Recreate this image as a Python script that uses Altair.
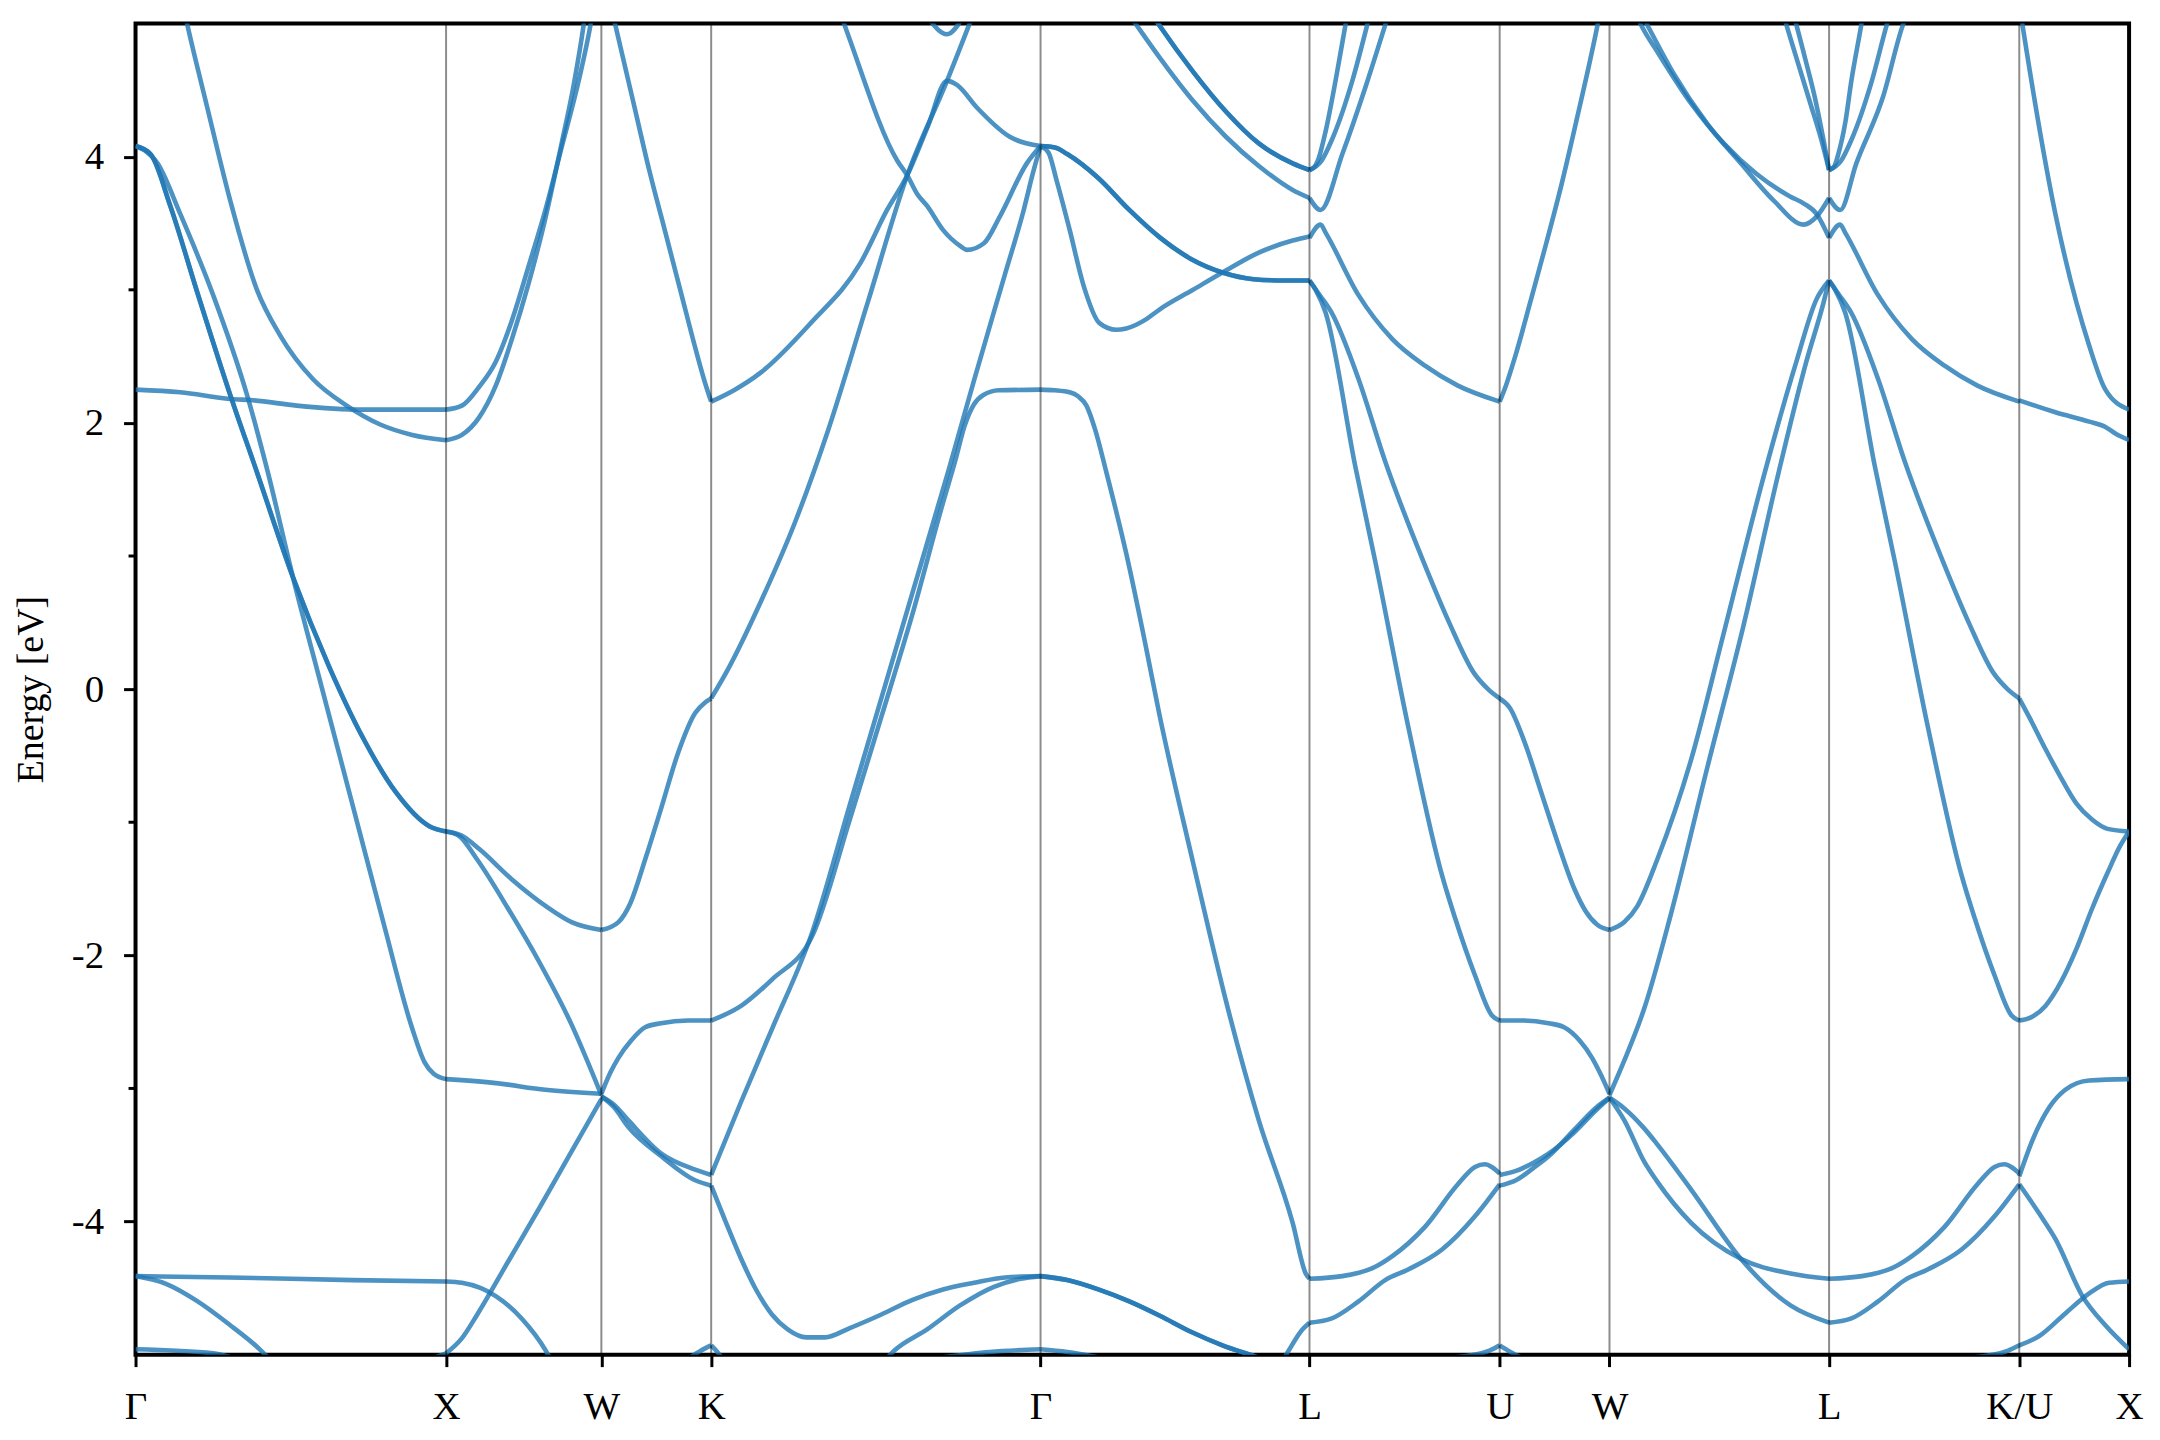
import altair as alt
import pandas as pd

# high-symmetry path (k in units of 2pi/a) and labels
K_POINTS = [0.0, 1.0, 1.5, 1.8536, 2.9142, 3.7802, 4.3926, 4.7462, 5.4533, 6.0657, 6.4193]
K_LABELS = ["Γ", "X", "W", "K", "Γ", "L", "U", "W", "L", "K/U", "X"]
Y_TICKS = [-4, -2, 0, 2, 4]
Y_MINOR = [-3, -1, 1, 3]

# ---- Gamma - X ----
GX_a = [(0, 4.08), (0.048, 4.02), (0.112, 3.63), (0.199, 2.98), (0.305, 2.21), (0.391, 1.63), (0.507, 0.84),
        (0.625, 0.16), (0.731, -0.36), (0.840, -0.78), (0.946, -1.03), (1.0, -1.07)]
GX_b = [(0, 4.08), (0.071, 3.95), (0.144, 3.57), (0.250, 2.96), (0.359, 2.21), (0.426, 1.63), (0.507, 0.84),
        (0.60, 0.01), (0.70, -0.88), (0.80, -1.77), (0.891, -2.55), (0.93, -2.80), (0.96, -2.89), (1.0, -2.93)]
GX_c = [(0, 2.25), (0.144, 2.23), (0.305, 2.18), (0.378, 2.17), (0.519, 2.13), (0.731, 2.10), (1.0, 2.10)]
GX_d = [(0.15, 5.17), (0.167, 4.99), (0.231, 4.37), (0.305, 3.67), (0.391, 3.00), (0.465, 2.66), (0.571, 2.33),
        (0.680, 2.13), (0.786, 1.99), (0.891, 1.91), (1.0, 1.87)]
GX_e = [(0, -4.41), (0.3, -4.42), (0.7, -4.44), (1.0, -4.45)]
GX_f = [(0, -4.41), (0.1, -4.47), (0.2, -4.60), (0.3, -4.77), (0.4, -4.96), (0.43, -5.03)]
GX_g = [(0, -4.96), (0.25, -4.99), (0.32, -5.03)]
GX_h = [(0.93, -5.05), (1.0, -4.99)]

# ---- X - W ----
XW_a = [(1.0, 2.10), (1.051, 2.13), (1.106, 2.27), (1.160, 2.46), (1.212, 2.77), (1.266, 3.18), (1.321, 3.61),
        (1.372, 4.07), (1.427, 4.57), (1.465, 4.99), (1.48, 5.2)]
XW_b = [(1.0, 1.87), (1.051, 1.91), (1.106, 2.04), (1.160, 2.28), (1.212, 2.63), (1.266, 3.05), (1.321, 3.55),
        (1.372, 4.10), (1.411, 4.54), (1.443, 4.99), (1.455, 5.2)]
XW_c = [(1.0, -1.07), (1.05, -1.10), (1.106, -1.20), (1.212, -1.43), (1.321, -1.63), (1.404, -1.75), (1.5, -1.81)]
XW_d = [(1.0, -1.07), (1.04, -1.10), (1.1, -1.28), (1.2, -1.65), (1.3, -2.05), (1.4, -2.50), (1.5, -3.05)]
XW_e = [(1.0, -2.93), (1.16, -2.96), (1.32, -3.01), (1.5, -3.04)]
XW_f = [(1.0, -4.45), (1.051, -4.46), (1.160, -4.56), (1.244, -4.73), (1.321, -4.97), (1.34, -5.05)]
XW_g = [(1.0, -4.99), (1.05, -4.88), (1.1, -4.70), (1.2, -4.30), (1.3, -3.90), (1.4, -3.49), (1.5, -3.08)]

# ---- W - K ----
WK_a = [(1.534, 5.1), (1.554, 4.90), (1.604, 4.40), (1.654, 3.90), (1.704, 3.45), (1.754, 3.00), (1.804, 2.55),
        (1.834, 2.30), (1.8536, 2.16)]
WK_b = [(1.5, -1.81), (1.555, -1.75), (1.593, -1.61), (1.641, -1.28), (1.692, -0.90), (1.747, -0.48),
        (1.802, -0.18), (1.834, -0.10), (1.8536, -0.07)]
WK_c = [(1.5, -3.04), (1.529, -2.88), (1.555, -2.77), (1.596, -2.64), (1.641, -2.54), (1.692, -2.51),
        (1.779, -2.49), (1.8536, -2.49)]
WK_d = [(1.5, -3.06), (1.54, -3.12), (1.587, -3.24), (1.693, -3.49), (1.802, -3.61), (1.8536, -3.65)]
WK_e = [(1.5, -3.06), (1.54, -3.14), (1.587, -3.29), (1.693, -3.51), (1.802, -3.69), (1.8536, -3.73)]
WK_f = [(1.78, -5.03), (1.82, -4.97), (1.8536, -4.93)]

# ---- K - Gamma ----
KG_s1 = [(1.8536, -3.65), (1.95, -3.10), (2.05, -2.55), (2.18, -1.82), (2.30, -0.87), (2.40, -0.08),
         (2.50, 0.71), (2.62, 1.66), (2.70, 2.32), (2.80, 3.12), (2.86, 3.60), (2.89, 3.88), (2.9142, 4.08)]
KG_s2 = [(1.8536, -2.49), (1.95, -2.38), (2.05, -2.18), (2.18, -1.85), (2.30, -0.98), (2.40, -0.22),
         (2.50, 0.55), (2.60, 1.40), (2.64, 1.72), (2.67, 1.98), (2.70, 2.14), (2.73, 2.21), (2.78, 2.245),
         (2.9142, 2.25)]
KG_b = [(1.8536, -0.07), (1.908, 0.15), (2.014, 0.66), (2.123, 1.25), (2.228, 1.93), (2.357, 2.90),
        (2.485, 3.86), (2.613, 4.57), (2.684, 4.99), (2.71, 5.15)]
KG_p = [(1.8536, 2.16), (1.93, 2.25), (2.014, 2.38), (2.174, 2.75), (2.334, 3.20), (2.42, 3.60), (2.485, 3.86),
        (2.55, 4.22), (2.613, 4.57), (2.645, 4.54), (2.709, 4.37), (2.815, 4.15), (2.9142, 4.08)]
KG_x = [(2.25, 5.2), (2.283, 4.99), (2.453, 3.97), (2.485, 3.86), (2.517, 3.72), (2.549, 3.63), (2.60, 3.45),
        (2.655, 3.33), (2.677, 3.30), (2.732, 3.35), (2.783, 3.55), (2.870, 3.95), (2.9142, 4.08)]
KG_v = [(2.55, 5.05), (2.613, 4.92), (2.665, 5.05)]
KG_l1 = [(1.8536, -3.73), (1.90, -4.00), (1.95, -4.28), (2.00, -4.52), (2.05, -4.70), (2.10, -4.81),
         (2.16, -4.87), (2.22, -4.87), (2.30, -4.80), (2.40, -4.70), (2.50, -4.59), (2.60, -4.51),
         (2.70, -4.46), (2.80, -4.42), (2.9142, -4.41)]
KG_l2 = [(2.41, -5.05), (2.443, -4.97), (2.549, -4.81), (2.655, -4.63), (2.764, -4.49), (2.85, -4.43),
         (2.9142, -4.41)]
KG_l3 = [(2.60, -5.02), (2.75, -4.98), (2.9142, -4.96)]
KG_l4 = [(1.8536, -4.93), (1.87, -4.97), (1.89, -5.03)]

# ---- Gamma - L ----
GL_1 = [(2.9142, 4.08), (2.96, 4.07), (3.0, 4.02), (3.1, 3.84), (3.2, 3.60), (3.3, 3.39), (3.4, 3.23),
        (3.5, 3.13), (3.6, 3.08), (3.7, 3.07), (3.7802, 3.07)]
GL_2 = [(2.9142, 4.08), (2.94, 4.03), (2.966, 3.82), (3.008, 3.45), (3.053, 3.03), (3.104, 2.75), (3.158, 2.70),
        (3.19, 2.71), (3.255, 2.78), (3.296, 2.85), (3.405, 3.00), (3.50, 3.13), (3.617, 3.28), (3.726, 3.37),
        (3.7802, 3.40)]
GL_3 = [(3.25, 5.15), (3.296, 4.99), (3.405, 4.64), (3.511, 4.34), (3.617, 4.10), (3.726, 3.95), (3.7802, 3.90)]
GL_4 = [(3.19, 5.1), (3.223, 4.99), (3.296, 4.75), (3.405, 4.42), (3.511, 4.15), (3.617, 3.93), (3.726, 3.75),
        (3.7802, 3.69)]
GL_5 = [(2.9142, 2.25), (2.96, 2.245), (3.008, 2.23), (3.035, 2.20), (3.062, 2.13), (3.09, 1.95), (3.126, 1.63),
        (3.19, 1.02), (3.255, 0.30), (3.296, -0.18), (3.405, -1.30), (3.437, -1.62), (3.511, -2.34),
        (3.617, -3.24), (3.726, -4.01), (3.768, -4.39), (3.7802, -4.43)]
GL_6 = [(2.9142, -4.41), (3.0, -4.44), (3.1, -4.51), (3.2, -4.60), (3.3, -4.71), (3.4, -4.83), (3.5, -4.93),
        (3.6, -5.01), (3.65, -5.05)]
GL_7 = [(3.695, -5.04), (3.713, -4.97), (3.758, -4.81), (3.7802, -4.76)]
GL_8 = [(2.9142, -4.96), (3.0, -4.98), (3.10, -5.02)]

# ---- L - U ----
LU_a = [(3.7802, 3.07), (3.80, 3.00), (3.832, 2.83), (3.928, 1.67), (3.992, 0.96), (4.098, -0.28),
        (4.207, -1.40), (4.249, -1.72), (4.313, -2.15), (4.367, -2.45), (4.3926, -2.49)]
LU_b = [(3.7802, 3.07), (3.81, 2.97), (3.851, 2.83), (3.938, 2.33), (4.024, 1.71), (4.152, 0.93), (4.230, 0.50),
        (4.310, 0.12), (4.355, 0.0), (4.3926, -0.07)]
LU_c = [(3.7802, 3.39), (3.816, 3.49), (3.832, 3.43), (3.938, 2.96), (4.047, 2.63), (4.152, 2.43), (4.258, 2.28),
        (4.3926, 2.16)]
LU_d = [(3.7802, 3.90), (3.795, 3.92), (3.81, 3.99), (3.832, 4.19), (3.864, 4.57), (3.896, 4.99), (3.91, 5.17)]
LU_e = [(3.7802, 3.90), (3.819, 3.97), (3.851, 4.12), (3.918, 4.57), (3.966, 4.99), (3.98, 5.12)]
LU_f = [(3.7802, 3.69), (3.816, 3.60), (3.886, 4.02), (3.960, 4.52), (4.024, 4.99), (4.04, 5.11)]
LU_g = [(3.7802, -4.43), (3.886, -4.41), (3.992, -4.34), (4.047, -4.26), (4.152, -4.04), (4.258, -3.72),
        (4.313, -3.59), (4.345, -3.57), (4.367, -3.59), (4.3926, -3.64)]
LU_h = [(3.7802, -4.76), (3.85, -4.73), (3.938, -4.60), (4.024, -4.44), (4.098, -4.36), (4.207, -4.21),
        (4.313, -3.96), (4.3926, -3.72)]
LU_i = [(4.25, -5.02), (4.36, -4.97), (4.3926, -4.93)]

# ---- U - W ----
UW_a = [(4.3926, 2.16), (4.4126, 2.28), (4.4426, 2.50), (4.4926, 2.92), (4.5426, 3.35), (4.5926, 3.80),
        (4.6426, 4.30), (4.6926, 4.82), (4.7126, 5.05), (4.72, 5.15)]
UW_b = [(4.3926, -0.07), (4.425, -0.14), (4.473, -0.40), (4.527, -0.78), (4.579, -1.15), (4.633, -1.50),
        (4.67, -1.67), (4.707, -1.77), (4.7462, -1.81)]
UW_c = [(4.3926, -2.49), (4.47, -2.49), (4.55, -2.51), (4.60, -2.54), (4.65, -2.64), (4.69, -2.77),
        (4.715, -2.88), (4.7462, -3.04)]
UW_d = [(4.3926, -3.65), (4.445, -3.62), (4.50, -3.56), (4.55, -3.49), (4.633, -3.33), (4.70, -3.17),
        (4.7462, -3.07)]
UW_e = [(4.3926, -3.73), (4.445, -3.69), (4.50, -3.60), (4.55, -3.51), (4.633, -3.31), (4.70, -3.15),
        (4.7462, -3.07)]
UW_f = [(4.3926, -4.93), (4.42, -4.97), (4.46, -5.02)]

# ---- W - L ----
WL_a = [(4.7462, -1.81), (4.794, -1.75), (4.836, -1.63), (4.900, -1.28), (5.009, -0.53), (5.114, 0.42),
        (5.243, 1.60), (5.348, 2.46), (5.413, 2.93), (5.4533, 3.07)]
WL_b = [(4.7462, -3.05), (4.794, -2.79), (4.858, -2.40), (4.944, -1.69), (5.060, -0.60), (5.178, 0.48),
        (5.291, 1.63), (5.380, 2.46), (5.435, 2.90), (5.4533, 3.07)]
WL_c = [(4.7462, -3.07), (4.794, -3.15), (4.858, -3.30), (4.900, -3.42), (5.009, -3.76), (5.169, -4.28),
        (5.329, -4.63), (5.4533, -4.76)]
WL_d = [(4.7462, -3.07), (4.794, -3.24), (4.858, -3.55), (4.900, -3.70), (5.009, -4.01), (5.169, -4.28),
        (5.329, -4.39), (5.4533, -4.43)]
WL_e = [(4.83, 5.08), (4.848, 4.99), (4.900, 4.79), (5.009, 4.40), (5.114, 4.10), (5.220, 3.87), (5.329, 3.70),
        (5.371, 3.65), (5.413, 3.57), (5.4533, 3.39)]
WL_f = [(4.85, 5.07), (4.868, 4.99), (4.954, 4.62), (5.060, 4.25), (5.169, 3.95), (5.275, 3.67), (5.371, 3.49),
        (5.413, 3.55), (5.4533, 3.69)]
WL_g = [(5.30, 5.12), (5.316, 4.99), (5.355, 4.69), (5.393, 4.40), (5.428, 4.13), (5.4533, 3.90)]
WL_h = [(5.335, 5.10), (5.348, 4.99), (5.377, 4.73), (5.406, 4.46), (5.435, 4.13), (5.4533, 3.90)]

# ---- L - K/U ----
LK_a = [(5.4533, 3.07), (5.473, 3.00), (5.505, 2.83), (5.601, 1.67), (5.665, 0.96), (5.771, -0.28),
        (5.880, -1.40), (5.922, -1.72), (5.986, -2.15), (6.040, -2.45), (6.0657, -2.49)]
LK_b = [(5.4533, 3.07), (5.483, 2.97), (5.524, 2.83), (5.611, 2.33), (5.697, 1.71), (5.825, 0.93), (5.903, 0.50),
        (5.983, 0.12), (6.028, 0.0), (6.0657, -0.07)]
LK_c = [(5.4533, 3.39), (5.489, 3.49), (5.505, 3.43), (5.611, 2.96), (5.720, 2.63), (5.825, 2.43), (5.931, 2.28),
        (6.0657, 2.16)]
LK_d = [(5.4533, 3.90), (5.468, 3.92), (5.483, 4.02), (5.505, 4.25), (5.525, 4.57), (5.557, 4.99), (5.57, 5.17)]
LK_e = [(5.4533, 3.90), (5.492, 3.97), (5.524, 4.12), (5.591, 4.57), (5.639, 4.99), (5.653, 5.10)]
LK_f = [(5.4533, 3.69), (5.489, 3.60), (5.541, 3.95), (5.627, 4.45), (5.691, 4.99), (5.71, 5.1)]
LK_g = [(5.4533, -4.43), (5.559, -4.41), (5.665, -4.34), (5.720, -4.26), (5.825, -4.04), (5.931, -3.72),
        (5.986, -3.59), (6.018, -3.57), (6.040, -3.59), (6.0657, -3.64)]
LK_h = [(5.4533, -4.76), (5.523, -4.73), (5.611, -4.60), (5.697, -4.44), (5.771, -4.36), (5.880, -4.21),
        (5.986, -3.96), (6.0657, -3.72)]
LK_i = [(5.92, -5.02), (6.03, -4.97), (6.0657, -4.93)]

# ---- K/U - X ----
UX_a = [(6.07, 5.08), (6.076, 4.99), (6.182, 3.57), (6.291, 2.58), (6.343, 2.25), (6.4193, 2.10)]
UX_b = [(6.0657, 2.17), (6.182, 2.08), (6.291, 2.01), (6.343, 1.97), (6.375, 1.92), (6.4193, 1.87)]
UX_c = [(6.0657, -0.07), (6.10, -0.22), (6.15, -0.45), (6.194, -0.64), (6.25, -0.86), (6.30, -0.98),
        (6.35, -1.05), (6.4193, -1.07)]
UX_d = [(6.0657, -2.49), (6.10, -2.47), (6.15, -2.38), (6.20, -2.20), (6.25, -1.95), (6.30, -1.65),
        (6.35, -1.38), (6.39, -1.18), (6.4193, -1.07)]
UX_e = [(6.0657, -3.66), (6.108, -3.39), (6.163, -3.14), (6.214, -3.01), (6.291, -2.94), (6.4193, -2.93)]
UX_f = [(6.0657, -3.72), (6.130, -3.94), (6.182, -4.13), (6.269, -4.56), (6.343, -4.78), (6.4193, -4.96)]
UX_g = [(6.0657, -4.93), (6.130, -4.86), (6.214, -4.69), (6.291, -4.54), (6.355, -4.46), (6.4193, -4.45)]

BANDS = {
    "GX_a": GX_a, "GX_b": GX_b, "GX_c": GX_c, "GX_d": GX_d, "GX_e": GX_e, "GX_f": GX_f, "GX_g": GX_g, "GX_h": GX_h,
    "XW_a": XW_a, "XW_b": XW_b, "XW_c": XW_c, "XW_d": XW_d, "XW_e": XW_e, "XW_f": XW_f, "XW_g": XW_g,
    "WK_a": WK_a, "WK_b": WK_b, "WK_c": WK_c, "WK_d": WK_d, "WK_e": WK_e, "WK_f": WK_f,
    "KG_s1": KG_s1, "KG_s2": KG_s2, "KG_b": KG_b, "KG_p": KG_p, "KG_x": KG_x, "KG_v": KG_v,
    "KG_l1": KG_l1, "KG_l2": KG_l2, "KG_l3": KG_l3, "KG_l4": KG_l4,
    "GL_1": GL_1, "GL_2": GL_2, "GL_3": GL_3, "GL_4": GL_4, "GL_5": GL_5, "GL_6": GL_6, "GL_7": GL_7, "GL_8": GL_8,
    "LU_a": LU_a, "LU_b": LU_b, "LU_c": LU_c, "LU_d": LU_d, "LU_e": LU_e, "LU_f": LU_f, "LU_g": LU_g,
    "LU_h": LU_h, "LU_i": LU_i,
    "UW_a": UW_a, "UW_b": UW_b, "UW_c": UW_c, "UW_d": UW_d, "UW_e": UW_e, "UW_f": UW_f,
    "WL_a": WL_a, "WL_b": WL_b, "WL_c": WL_c, "WL_d": WL_d, "WL_e": WL_e, "WL_f": WL_f, "WL_g": WL_g, "WL_h": WL_h,
    "LK_a": LK_a, "LK_b": LK_b, "LK_c": LK_c, "LK_d": LK_d, "LK_e": LK_e, "LK_f": LK_f, "LK_g": LK_g,
    "LK_h": LK_h, "LK_i": LK_i,
    "UX_a": UX_a, "UX_b": UX_b, "UX_c": UX_c, "UX_d": UX_d, "UX_e": UX_e, "UX_f": UX_f, "UX_g": UX_g,
}
# degenerate (doubly drawn) bands
DOUBLE = ["GX_a", "GL_1", "GL_3", "GL_6"]

rows = []
for name, pts in BANDS.items():
    copies = 2 if name in DOUBLE else 1
    for c in range(copies):
        for i, (k, e) in enumerate(pts):
            rows.append({"band": f"{name}#{c}", "k": k, "E": e, "i": i})
bands_df = pd.DataFrame(rows)

FONT = "Liberation Serif"
FS = 39
TITLE_FS = 38
xscale = alt.Scale(domain=[0, K_POINTS[-1]], nice=False, zero=False)
yscale = alt.Scale(domain=[-5, 5], nice=False, zero=False)

label_expr = ""
for kv, lab in zip(K_POINTS, K_LABELS):
    label_expr += f"abs(datum.value - {kv}) < 0.001 ? '{lab}' : "
label_expr += "''"

X_AXIS = alt.Axis(
    values=K_POINTS, labelExpr=label_expr, title=None, grid=False, domain=False,
    tickSize=12, tickWidth=3, tickColor="black", labelFont=FONT, labelFontSize=FS,
    labelColor="black", labelPadding=21, labelOverlap=False, labelFlush=False, labelBound=False)
Y_AXIS = alt.Axis(
    values=Y_TICKS, labelExpr="datum.value + ''", title="Energy [eV]", grid=False, domain=False,
    tickSize=12, tickWidth=3, tickColor="black", labelFont=FONT, labelFontSize=FS, labelColor="black",
    labelPadding=20, titleFont=FONT, titleFontSize=TITLE_FS, titleFontWeight="normal", titleColor="black",
    titleX=-93, titleY=668, titleAngle=270, titleAlign="center", titleBaseline="alphabetic")

lines = alt.Chart(bands_df).mark_line(
    interpolate="monotone", clip=True, color="#1f77b4", opacity=0.8, strokeWidth=4.6
).encode(
    x=alt.X("k:Q", scale=xscale, axis=X_AXIS),
    y=alt.Y("E:Q", scale=yscale, axis=Y_AXIS),
    detail="band:N",
    order="i:Q",
)

vdf = pd.DataFrame({"k": K_POINTS[1:-1]})
vlines = alt.Chart(vdf).mark_rule(color="black", opacity=0.45, strokeWidth=2).encode(
    x=alt.X("k:Q", scale=xscale, axis=X_AXIS)
)

mdf = pd.DataFrame({"E": Y_MINOR})
minor = alt.Chart(mdf).mark_rule(color="black", strokeWidth=3).encode(
    x=alt.value(-7), x2=alt.value(0), y=alt.Y("E:Q", scale=yscale, axis=Y_AXIS)
)

chart = alt.layer(lines, vlines, minor).properties(
    width=2001, height=1336,
    autosize=alt.AutoSizeParams(type="none"),
    padding={"left": 128, "top": 13, "right": 23, "bottom": 83},
    background="white",
).configure_view(stroke="black", strokeWidth=4)

chart.save("out.html", embed_options={"renderer": "svg", "actions": False})
